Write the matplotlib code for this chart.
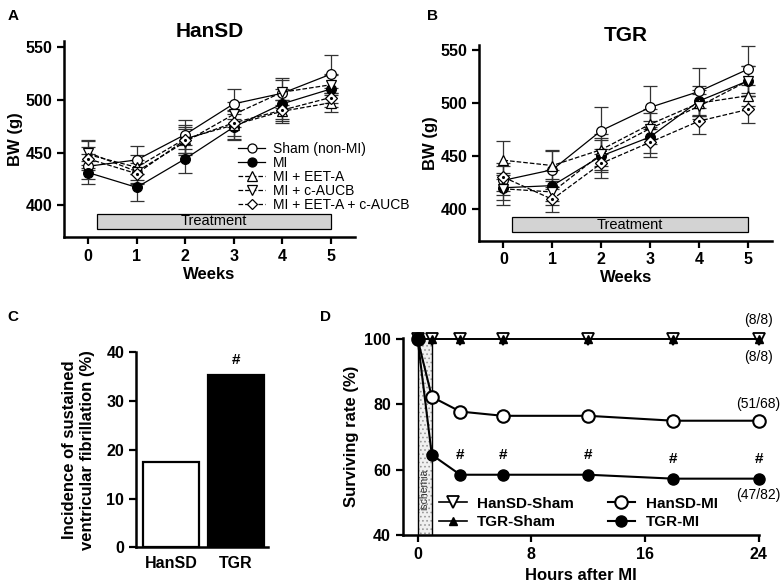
import numpy as np
import matplotlib
matplotlib.use('Agg')
import matplotlib.pyplot as plt
from matplotlib.lines import Line2D

plt.rcParams['font.family'] = ['Liberation Sans', 'DejaVu Sans']
plt.rcParams['font.weight'] = 'bold'
plt.rcParams['axes.linewidth'] = 1.8
plt.rcParams['hatch.color'] = '#888888'
plt.rcParams['hatch.linewidth'] = 0.7

# ---- body weight (panels A and B) ----
weeks = [0, 1, 2, 3, 4, 5]
groups = ['Sham (non-MI)', 'MI', 'MI + EET-A', 'MI + c-AUCB', 'MI + EET-A + c-AUCB']

hansd_bw = {
    'Sham (non-MI)': [437, 443, 467, 496, 506, 524],
    'MI': [431, 417, 444, 474, 496, 510],
    'MI + EET-A': [448, 436, 463, 476, 489, 497],
    'MI + c-AUCB': [450, 432, 460, 486, 507, 514],
    'MI + EET-A + c-AUCB': [444, 430, 462, 478, 490, 502],
}
hansd_sem = {
    'Sham (non-MI)': [12, 13, 14, 14, 14, 18],
    'MI': [11, 13, 13, 12, 14, 13],
    'MI + EET-A': [13, 12, 13, 13, 11, 9],
    'MI + c-AUCB': [12, 11, 12, 12, 12, 10],
    'MI + EET-A + c-AUCB': [11, 10, 12, 12, 10, 9],
}
tgr_bw = {
    'Sham (non-MI)': [427, 437, 474, 496, 511, 532],
    'MI': [420, 422, 450, 468, 502, 521],
    'MI + EET-A': [446, 441, 456, 480, 500, 507],
    'MI + c-AUCB': [419, 416, 452, 476, 497, 521],
    'MI + EET-A + c-AUCB': [430, 409, 443, 463, 483, 494],
}
tgr_sem = {
    'Sham (non-MI)': [14, 18, 22, 20, 22, 22],
    'MI': [12, 15, 15, 15, 14, 14],
    'MI + EET-A': [18, 15, 15, 14, 12, 10],
    'MI + c-AUCB': [15, 12, 15, 15, 12, 14],
    'MI + EET-A + c-AUCB': [13, 12, 14, 14, 12, 13],
}

styles = {
    'Sham (non-MI)': dict(marker='o', mfc='white', ls='-', ms=7),
    'MI': dict(marker='o', mfc='black', ls='-', ms=7),
    'MI + EET-A': dict(marker='^', mfc='white', ls='--', ms=7),
    'MI + c-AUCB': dict(marker='v', mfc='white', ls='--', ms=7),
    'MI + EET-A + c-AUCB': dict(marker='D', mfc='white', ls='--', ms=6),
}

# ---- VF incidence (panel C) ----
strains = ['HanSD', 'TGR']
vf_incidence = [17.6, 35.4]

# ---- survival (panel D) ----
hours = [0, 1, 3, 6, 12, 18, 24]
surv_hansd_sham = [100, 100, 100, 100, 100, 100, 100]
surv_tgr_sham = [100, 100, 100, 100, 100, 100, 100]
surv_hansd_mi = [100, 82.3, 77.8, 76.5, 76.5, 75.0, 75.0]
surv_tgr_mi = [100, 64.6, 58.5, 58.5, 58.5, 57.3, 57.3]
sig_hours = [3, 6, 12, 18, 24]


fig = plt.figure(figsize=(7.84, 5.84), dpi=100)


def style_ax(ax):
    for s in ['top', 'right']:
        ax.spines[s].set_visible(False)
    ax.tick_params(direction='out', length=5, width=1.6, labelsize=11.5)
    for lab in ax.get_xticklabels() + ax.get_yticklabels():
        lab.set_fontweight('bold')


def bw_panel(ax, data, sem, title):
    for g in groups:
        st = styles[g]
        ax.errorbar(weeks, data[g], yerr=sem[g], color='black', lw=0.9,
                    ls=st['ls'], marker=st['marker'], mfc=st['mfc'], mec='black',
                    ms=st['ms'], mew=0.9, capsize=5, elinewidth=0.9, capthick=0.9,
                    ecolor='#333333', label=g, clip_on=False, zorder=3)
        if g == 'MI + EET-A + c-AUCB':
            ax.plot(weeks, data[g], ls='none', marker='.', ms=2.5, color='black', zorder=4)
    ax.add_patch(plt.Rectangle((0.18, 378), 4.82, 14, facecolor='#d3d3d3',
                               edgecolor='black', lw=0.9, zorder=2))
    ax.text(2.59, 385, 'Treatment', ha='center', va='center', fontsize=10.5,
            fontweight='normal')
    ax.set_xlim(-0.5, 5.5)
    ax.set_ylim(370, 555)
    ax.set_xticks(weeks)
    ax.set_yticks([400, 450, 500, 550])
    ax.set_xlabel('Weeks', fontsize=12, fontweight='bold', labelpad=2)
    ax.set_ylabel('BW (g)', fontsize=12, fontweight='bold', labelpad=2)
    ax.set_title(title, fontsize=15, fontweight='bold', pad=0)
    style_ax(ax)


axA = fig.add_axes([0.0816, 0.594, 0.371, 0.335])
bw_panel(axA, hansd_bw, hansd_sem, 'HanSD')
handles = []
for g in groups:
    st = styles[g]
    handles.append(Line2D([], [], color='black', lw=0.9, ls=st['ls'], marker=st['marker'],
                          mfc=st['mfc'], mec='black', ms=st['ms'] - 0.5, mew=0.9))
leg = axA.legend(handles, groups, loc='upper left', bbox_to_anchor=(0.6, 0.485),
                 frameon=False, fontsize=10, handlelength=1.9, handletextpad=0.6,
                 labelspacing=0.0, borderpad=0, borderaxespad=0)
for t in leg.get_texts():
    t.set_fontweight('normal')

axB = fig.add_axes([0.611, 0.588, 0.374, 0.335])
bw_panel(axB, tgr_bw, tgr_sem, 'TGR')

# ---- panel C ----
axC = fig.add_axes([0.1735, 0.0628, 0.168, 0.334])
axC.bar([0, 1], vf_incidence, width=0.85, color=['white', 'black'],
        edgecolor='black', lw=1.6)
axC.text(1, 37, '#', ha='center', va='bottom', fontsize=11, fontweight='bold')
axC.set_xlim(-0.54, 1.49)
axC.set_ylim(0, 40)
axC.set_xticks([0, 1])
axC.set_xticklabels(strains)
axC.set_yticks([0, 10, 20, 30, 40])
axC.set_ylabel('Incidence of sustained\nventricular fibrillation (%)', fontsize=12,
               fontweight='bold', labelpad=8, linespacing=1.3)
style_ax(axC)
axC.tick_params(axis='x', length=0, pad=6)

# ---- panel D ----
axD = fig.add_axes([0.5136, 0.0834, 0.4541, 0.338])
axD.axvspan(0, 1, facecolor='#f0f0f0', hatch='....', edgecolor='#999999', lw=0, zorder=0)
axD.axvline(0, color='black', lw=1, zorder=1)
axD.axvline(1, color='black', lw=1, zorder=1)
axD.text(0.5, 54, 'ischemia', rotation=90, ha='center', va='center', fontsize=7.5,
         fontweight='normal', color='#333333')
axD.plot(hours, surv_hansd_sham, color='black', lw=1.2, marker='v', mfc='white',
         mec='black', ms=8, mew=1.3, clip_on=False, zorder=3, label='HanSD-Sham')
axD.plot(hours, surv_tgr_sham, color='black', lw=1.2, marker='^', mfc='black',
         mec='black', ms=6, clip_on=False, zorder=4, label='TGR-Sham')
axD.plot(hours, surv_hansd_mi, color='black', lw=1.5, marker='o', mfc='white',
         mec='black', ms=9, mew=1.5, clip_on=False, zorder=3, label='HanSD-MI')
axD.plot(hours, surv_tgr_mi, color='black', lw=1.5, marker='o', mfc='black',
         mec='black', ms=8, clip_on=False, zorder=3, label='TGR-MI')
for h in sig_hours:
    axD.text(h, surv_tgr_mi[hours.index(h)] + 4, '#', ha='center', va='bottom',
             fontsize=11, fontweight='bold')
axD.text(24, 105.8, '(8/8)', ha='center', va='center', fontsize=10, fontweight='normal')
axD.text(24, 94.6, '(8/8)', ha='center', va='center', fontsize=10, fontweight='normal')
axD.text(24, 80.2, '(51/68)', ha='center', va='center', fontsize=10, fontweight='normal')
axD.text(24, 52.2, '(47/82)', ha='center', va='center', fontsize=10, fontweight='normal')
axD.set_xlim(-1.05, 24)
axD.set_ylim(40, 100.3)
axD.set_xticks([0, 8, 16, 24])
axD.set_yticks([40, 60, 80, 100])
axD.set_xlabel('Hours after MI', fontsize=12, fontweight='bold', labelpad=4)
axD.set_ylabel('Surviving rate (%)', fontsize=12, fontweight='bold', labelpad=4)
style_ax(axD)
h, l = axD.get_legend_handles_labels()
legD = axD.legend(h, l, ncol=2, loc='lower left', bbox_to_anchor=(0.085, 0.0),
                  frameon=False, fontsize=11, handlelength=1.8, handletextpad=0.7,
                  labelspacing=0.3, columnspacing=2.2, borderaxespad=0)
for t in legD.get_texts():
    t.set_fontweight('bold')

# panel letters
for letter, x, y in [('A', 0.01, 0.985), ('B', 0.545, 0.985), ('C', 0.01, 0.47),
                     ('D', 0.408, 0.47)]:
    fig.text(x, y, letter, fontsize=11, fontweight='bold', va='top', ha='left')

fig.savefig('out.png', dpi=100)
